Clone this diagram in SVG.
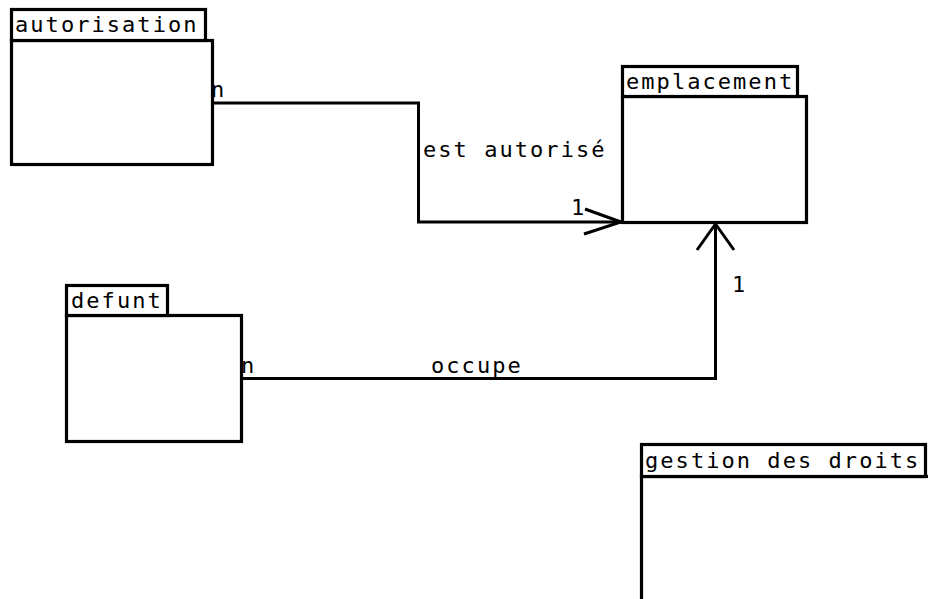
<svg xmlns="http://www.w3.org/2000/svg" width="928" height="599" viewBox="0 0 928 599">
<style>
.box{fill:#fff;stroke:#000;stroke-width:3.2}
.t{font-family:"DejaVu Sans Mono","Liberation Mono",monospace;font-size:22px;letter-spacing:2.05px;fill:#000}
.c{fill:none;stroke:#000;stroke-width:3}
</style>
<rect width="928" height="599" fill="#fff"/>
<g id="autorisation">
<rect class="box" x="11.5" y="40.5" width="201" height="124"/>
<rect class="box" x="11.5" y="9.5" width="194" height="31"/>
<text class="t" x="15" y="32">autorisation</text>
</g>
<g id="emplacement">
<rect class="box" x="622.5" y="96.5" width="184" height="126"/>
<rect class="box" x="622.5" y="66.5" width="175" height="30"/>
<text class="t" x="626" y="89">emplacement</text>
</g>
<g id="defunt">
<rect class="box" x="66.5" y="315.5" width="175" height="126"/>
<rect class="box" x="66.5" y="285.5" width="101" height="30"/>
<text class="t" x="71" y="308">defunt</text>
</g>
<g id="gestion">
<rect class="box" x="641.5" y="476.5" width="300" height="140"/>
<rect class="box" x="641.5" y="444.5" width="284" height="32"/>
<text class="t" x="645" y="468">gestion des droits</text>
</g>
<g id="connectors">
<polyline class="c" points="213,103 418.5,103 418.5,222 621,222"/>
<polyline class="c" points="585,209 621,222 584,234"/>
<text class="t" x="423" y="157">est autorisé</text>
<text class="t" x="211" y="97">n</text>
<text class="t" x="571" y="215">1</text>
<polyline class="c" points="242,378.5 715.5,378.5 715.5,224"/>
<polyline class="c" points="697,250 715.5,224 734,250"/>
<text class="t" x="431" y="373">occupe</text>
<text class="t" x="241" y="373">n</text>
<text class="t" x="732" y="292">1</text>
</g>
</svg>
